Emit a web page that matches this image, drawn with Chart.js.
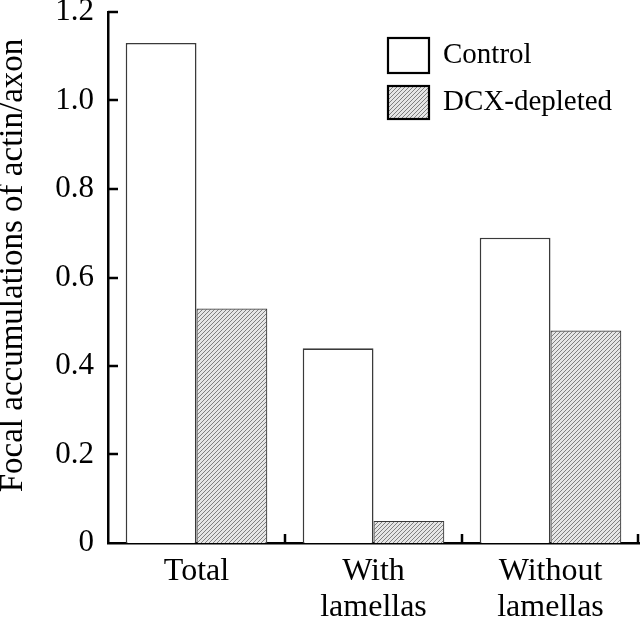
<!DOCTYPE html>
<html>
<head>
<meta charset="utf-8">
<script src="https://cdn.jsdelivr.net/npm/chart.js@4"></script>
<style>
html,body{margin:0;padding:0;background:#fff;}
#wrap{width:640px;height:621px;position:relative;}
</style>
</head>
<body>
<div id="wrap"><canvas id="c" width="640" height="621"></canvas></div>
<script>
const categories = [['Total'], ['With', 'lamellas'], ['Without', 'lamellas']];
const seriesNames = ['Control', 'DCX-depleted'];
const controlValues = [1.13, 0.44, 0.69];
const dcxValues = [0.53, 0.05, 0.48];
const yTicks = [0, 0.2, 0.4, 0.6, 0.8, 1.0, 1.2];
const yTitle = 'Focal accumulations of actin/axon';

const FONT = '"Liberation Serif", "Times New Roman", serif';

function makeHatch() {
  const s = 4;
  const pc = document.createElement('canvas');
  pc.width = s; pc.height = s;
  const g = pc.getContext('2d');
  g.fillStyle = '#e6e6e6';
  g.fillRect(0, 0, s, s);
  g.strokeStyle = '#808080';
  g.lineWidth = 1;
  g.beginPath();
  g.moveTo(-1, s + 1); g.lineTo(s + 1, -1);
  g.moveTo(-1, 1); g.lineTo(1, -1);
  g.moveTo(s - 1, s + 1); g.lineTo(s + 1, s - 1);
  g.stroke();
  return g.createPattern(pc, 'repeat');
}
const hatch = makeHatch();

const decorations = {
  id: 'decorations',
  afterDraw(chart) {
    const ctx = chart.ctx, ca = chart.chartArea;
    const y = chart.scales.y, x = chart.scales.x;
    ctx.save();
    ctx.strokeStyle = '#000';
    ctx.lineWidth = 2.5;
    ctx.beginPath();
    y.ticks.forEach(t => {
      if (t.value === 0) return;
      const py = Math.round(y.getPixelForValue(t.value));
      ctx.moveTo(ca.left, py); ctx.lineTo(ca.left + 10, py);
    });
    const n = x.ticks.length;
    for (let i = 0; i < n; i++) {
      let px;
      if (i < n - 1) px = (x.getPixelForValue(i) + x.getPixelForValue(i + 1)) / 2;
      else px = ca.right - 1;
      ctx.moveTo(px, ca.bottom); ctx.lineTo(px, ca.bottom - 9);
    }
    ctx.stroke();

    // y-axis title
    ctx.save();
    ctx.translate(13, (ca.top + ca.bottom) / 2 - 12);
    ctx.rotate(-Math.PI / 2);
    ctx.fillStyle = '#000';
    ctx.font = '33px ' + FONT;
    ctx.textAlign = 'center';
    ctx.textBaseline = 'middle';
    ctx.fillText(yTitle, 0, 0);
    ctx.restore();

    // legend
    const lx = ca.left + 280, ly = ca.top + 26;
    const bw = 41, bh = 35, gap = 48;
    chart.data.datasets.forEach((ds, i) => {
      const by = ly + i * gap;
      const h = bh - (i ? 2 : 0);
      ctx.fillStyle = ds.backgroundColor;
      ctx.fillRect(lx, by, bw, h);
      ctx.lineWidth = 2.2;
      ctx.strokeStyle = '#000';
      ctx.strokeRect(lx, by, bw, h);
      ctx.fillStyle = '#000';
      ctx.font = '29px ' + FONT;
      ctx.textBaseline = 'middle';
      ctx.textAlign = 'left';
      ctx.fillText(ds.label, lx + 55, by + h / 2);
    });
    ctx.restore();
  }
};

new Chart(document.getElementById('c'), {
  type: 'bar',
  data: {
    labels: categories,
    datasets: [
      { label: seriesNames[0], data: controlValues, backgroundColor: '#ffffff', borderColor: '#3a3a3a', borderWidth: 1.6 },
      { label: seriesNames[1], data: dcxValues, backgroundColor: hatch, borderColor: '#3a3a3a', borderWidth: 1.2 }
    ]
  },
  options: {
    responsive: false,
    animation: false,
    devicePixelRatio: 1,
    layout: { autoPadding: false, padding: { top: 12, right: 1, left: 0, bottom: 0 } },
    datasets: { bar: { categoryPercentage: 0.8, barPercentage: 1.0 } },
    plugins: { legend: { display: false }, tooltip: { enabled: false } },
    scales: {
      x: {
        grid: { display: false, drawTicks: false },
        border: { display: true, color: '#000', width: 2.5 },
        ticks: { color: '#000', font: { family: FONT, size: 32, lineHeight: 1.12 }, padding: 11, maxRotation: 0, autoSkip: false },
        afterFit(s) { s.height = 78; s.paddingLeft = 0; s.paddingRight = 0; }
      },
      y: {
        min: 0, max: 1.2,
        afterBuildTicks(s) { s.ticks = yTicks.map(v => ({ value: v })); },
        grid: { display: false, drawTicks: false },
        border: { display: true, color: '#000', width: 2.5 },
        ticks: {
          color: '#000', font: { family: FONT, size: 31 }, padding: 14,
          callback: v => (v === 0 ? '0' : Number(v).toFixed(1))
        },
        afterFit(s) { s.width = 108; s.paddingTop = 0; s.paddingBottom = 0; }
      }
    }
  },
  plugins: [decorations]
});
</script>
</body>
</html>
